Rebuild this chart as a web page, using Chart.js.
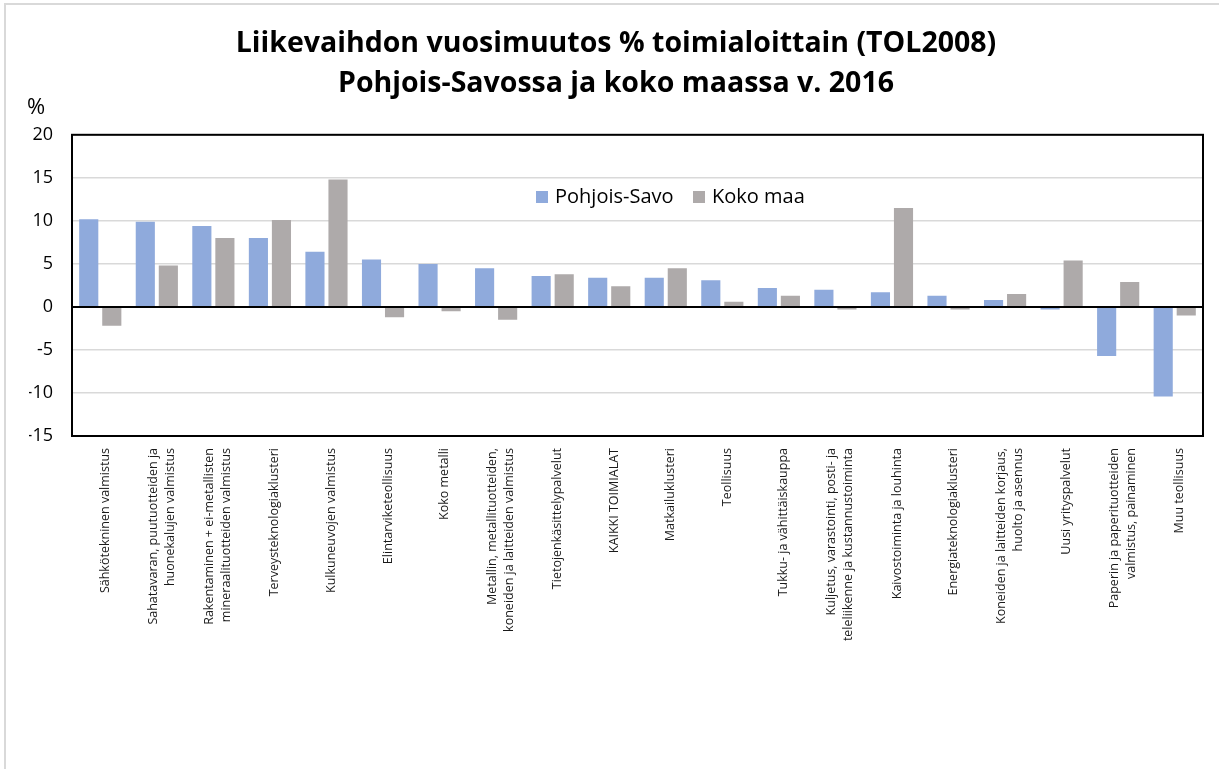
<!DOCTYPE html>
<html>
<head>
<meta charset="utf-8">
<script src="https://cdn.jsdelivr.net/npm/chart.js@4.4.0/dist/chart.umd.min.js"></script>
<style>
html, body { margin: 0; padding: 0; background: #fff; overflow: hidden; }
</style>
</head>
<body>
<canvas id="chart" width="1219" height="769"></canvas>
<script>
// values
var categories = [
    'Sähkötekninen valmistus',
    ['Sahatavaran, puutuotteiden ja', 'huonekalujen valmistus'],
    ['Rakentaminen + ei-metallisten', 'mineraalituotteiden valmistus'],
    'Terveysteknologiaklusteri',
    'Kulkuneuvojen valmistus',
    'Elintarviketeollisuus',
    'Koko metalli',
    ['Metallin, metallituotteiden,', 'koneiden ja laitteiden valmistus'],
    'Tietojenkäsittelypalvelut',
    'KAIKKI TOIMIALAT',
    'Matkailuklusteri',
    'Teollisuus',
    'Tukku- ja vähittäiskauppa',
    ['Kuljetus, varastointi, posti- ja', 'teleliikenne ja kustannustoiminta'],
    'Kaivostoiminta ja louhinta',
    'Energiateknologiaklusteri',
    ['Koneiden ja laitteiden korjaus,', 'huolto ja asennus'],
    'Uusi yrityspalvelut',
    ['Paperin ja paperituotteiden', 'valmistus, painaminen'],
    'Muu teollisuus'
];
var pohjoisSavo = [10.2, 9.9, 9.4, 8.0, 6.4, 5.5, 5.0, 4.5, 3.6, 3.4, 3.4, 3.1, 2.2, 2.0, 1.7, 1.3, 0.8, -0.3, -5.7, -10.4];
var kokoMaa = [-2.2, 4.8, 8.0, 10.1, 14.8, -1.2, -0.5, -1.5, 3.8, 2.4, 4.5, 0.6, 1.3, -0.3, 11.5, -0.3, 1.5, 5.4, 2.9, -1.0];
var seriesNames = ['Pohjois-Savo', 'Koko maa'];
var seriesColors = ['#8faadc', '#aeaaaa'];
var yMin = -15, yMax = 20, yStep = 5;
var titleLines = ['Liikevaihdon vuosimuutos % toimialoittain (TOL2008)', 'Pohjois-Savossa ja koko maassa v. 2016'];

var FONT = '"Open Sans", "Noto Sans", sans-serif';

var decor = {
    id: 'decor',
    afterDraw: function(chart) {
        var ctx = chart.ctx;
        var a = chart.chartArea;
        var xs = chart.scales.x;
        var ys = chart.scales.y;
        ctx.save();

        // outer chart border
        ctx.strokeStyle = '#d9d9d9';
        ctx.lineWidth = 2;
        ctx.strokeRect(5, 4, 1300, 900);

        // zero line and plot frame
        var y0 = Math.round(ys.getPixelForValue(0));
        ctx.strokeStyle = '#000';
        ctx.lineWidth = 2;
        ctx.beginPath();
        ctx.moveTo(a.left, y0);
        ctx.lineTo(a.right, y0);
        ctx.stroke();
        ctx.strokeRect(a.left, a.top, a.right - a.left, a.bottom - a.top);

        // unit label
        ctx.fillStyle = '#000';
        ctx.font = '22px ' + FONT;
        ctx.textAlign = 'left';
        ctx.textBaseline = 'alphabetic';
        ctx.fillText('%', 27, 114);

        // rotated category labels
        ctx.font = '12.5px ' + FONT;
        ctx.fillStyle = '#1a1a1a';
        categories.forEach(function(lab, i) {
            var lines = [].concat(lab);
            var px = xs.getPixelForValue(i) + 5;
            ctx.save();
            ctx.translate(px, a.bottom + 12);
            ctx.rotate(-Math.PI / 2);
            ctx.textAlign = 'right';
            ctx.textBaseline = 'middle';
            lines.forEach(function(t, j) {
                ctx.fillText(t, 0, (j - (lines.length - 1) / 2) * 17);
            });
            ctx.restore();
        });

        // legend inside the plot
        ctx.font = '20px ' + FONT;
        ctx.textAlign = 'left';
        ctx.textBaseline = 'middle';
        var lx = [536, 693];
        var ly = 197;
        for (var k = 0; k < 2; k++) {
            ctx.fillStyle = seriesColors[k];
            ctx.fillRect(lx[k], ly - 6, 12, 12);
            ctx.fillStyle = '#000';
            ctx.fillText(seriesNames[k], lx[k] + 19, ly);
        }
        ctx.restore();
    }
};

new Chart(document.getElementById('chart').getContext('2d'), {
    type: 'bar',
    data: {
        labels: categories,
        datasets: [{
            label: seriesNames[0],
            data: pohjoisSavo,
            backgroundColor: seriesColors[0],
            barPercentage: 0.83,
            categoryPercentage: 0.815
        }, {
            label: seriesNames[1],
            data: kokoMaa,
            backgroundColor: seriesColors[1],
            barPercentage: 0.83,
            categoryPercentage: 0.815
        }]
    },
    options: {
        responsive: false,
        animation: false,
        layout: { padding: { left: 29, right: 16, top: 0, bottom: 0 } },
        plugins: {
            legend: { display: false },
            tooltip: { enabled: false },
            title: {
                display: true,
                text: titleLines,
                color: '#000',
                font: { family: FONT, size: 28.5, weight: 'bold', lineHeight: 1.4 },
                padding: { top: 24, bottom: 31 }
            }
        },
        scales: {
            x: {
                grid: { display: false },
                border: { display: false },
                ticks: { display: false },
                afterFit: function(scale) { scale.height = 333; }
            },
            y: {
                min: yMin,
                max: yMax,
                ticks: {
                    stepSize: yStep,
                    padding: 19,
                    color: '#000',
                    font: { family: FONT, size: 18 }
                },
                grid: {
                    drawTicks: false,
                    color: '#d9d9d9',
                    lineWidth: 1.5
                },
                border: { display: false },
                afterFit: function(scale) { scale.width = 43; }
            }
        }
    },
    plugins: [decor]
});
</script>
</body>
</html>
